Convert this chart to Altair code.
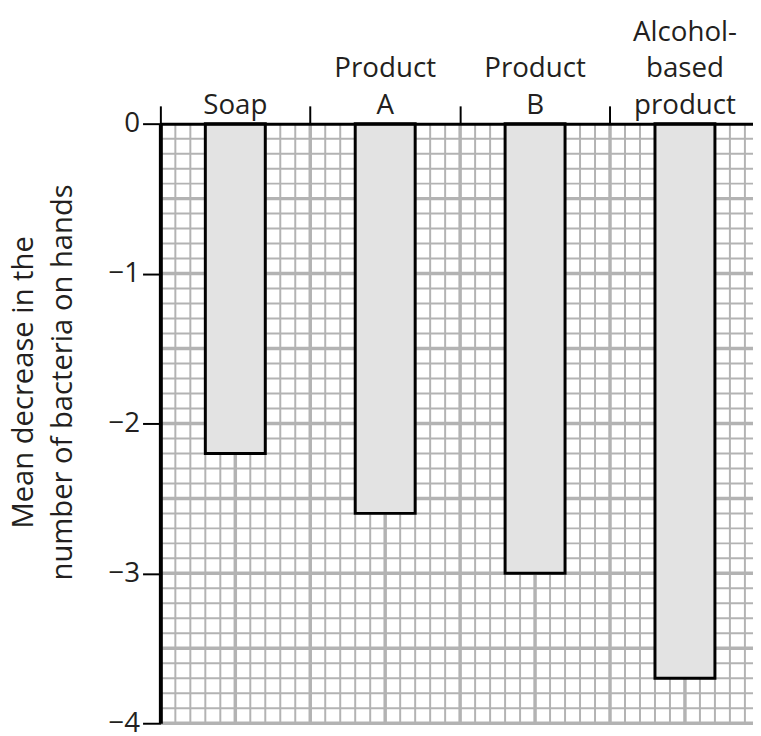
import altair as alt
import numpy as np
import pandas as pd

# Data
categories = ["Soap", "Product A", "Product B", "Alcohol-based product"]
label_lines = [["Soap"], ["Product", "A"], ["Product", "B"], ["Alcohol-", "based", "product"]]
values = [-2.2, -2.6, -3.0, -3.7]
y_ticks = [0, -1, -2, -3, -4]
x_dividers = [0, 1, 2, 3]

FONT = "Open Sans"
TXT = "#231f20"
GRID = "#b3b3b3"
LINE_H = 37
PX_PER_UNIT = 151.5

bars_df = pd.DataFrame({
    "category": categories,
    "label": label_lines,
    "value": values,
    "idx": list(range(len(categories))),
})

# Graph-paper grid (style only)
minor_x = [round(v, 2) for v in np.arange(0.1, 4.0, 0.1) if round(v * 10) % 5 != 0]
major_x = [round(v, 2) for v in np.arange(0.5, 4.0, 0.5)]
minor_y = [round(-v, 2) for v in np.arange(0.1, 4.0, 0.1) if round(v * 10) % 5 != 0]
major_y = [round(-v, 2) for v in np.arange(0.5, 4.01, 0.5)]

xscale = alt.Scale(domain=[0, 3.954], nice=False, zero=False)
yscale = alt.Scale(domain=[-4, 0], nice=False, zero=False)

x_axis = alt.Axis(orient="top", values=x_dividers, labels=False, title=None,
                  grid=False, ticks=True, tickSize=18, tickWidth=2, tickColor="black",
                  domain=True, domainColor="black", domainWidth=3, zindex=2)
y_axis = alt.Axis(orient="left", values=y_ticks, format="d", grid=False,
                  title=["Mean decrease in the", "number of bacteria on hands"],
                  titleFont=FONT, titleFontSize=29.5, titleFontWeight="normal",
                  titleColor=TXT, titleAngle=270, titleAlign="center",
                  titleBaseline="alphabetic", titleLineHeight=39,
                  titleX=-129, titleY=261,
                  labelFont=FONT, labelFontSize=28, labelColor=TXT, labelPadding=3,
                  tickSize=18, tickWidth=2, tickColor="black",
                  domain=True, domainColor="black", domainWidth=4, zindex=2)

vminor = alt.Chart(pd.DataFrame({"x": minor_x})).mark_rule(color=GRID, strokeWidth=2).encode(
    x=alt.X("x:Q", scale=xscale, axis=x_axis))
vmajor = alt.Chart(pd.DataFrame({"x": major_x})).mark_rule(color=GRID, strokeWidth=3.5).encode(
    x=alt.X("x:Q", scale=xscale))
hminor = alt.Chart(pd.DataFrame({"y": minor_y})).mark_rule(color=GRID, strokeWidth=2).encode(
    y=alt.Y("y:Q", scale=yscale, axis=y_axis))
hmajor = alt.Chart(pd.DataFrame({"y": major_y})).mark_rule(color=GRID, strokeWidth=3.5).encode(
    y=alt.Y("y:Q", scale=yscale))

base = alt.Chart(bars_df).transform_calculate(
    x0="datum.idx + 0.3", x1="datum.idx + 0.7", xc="datum.idx + 0.5", zero="0",
    ylab=f"(length(datum.label) - 1) * {LINE_H} / {PX_PER_UNIT}",
)

bars = base.mark_bar(fill="#e3e3e3", stroke="black", strokeWidth=3).encode(
    x=alt.X("x0:Q", scale=xscale),
    x2="x1:Q",
    y=alt.Y("value:Q", scale=yscale),
    y2="zero:Q",
)

labels = base.mark_text(font=FONT, fontSize=28, color=TXT, baseline="bottom",
                        align="center", lineHeight=LINE_H, dy=-4).encode(
    x=alt.X("xc:Q", scale=xscale),
    y=alt.Y("ylab:Q", scale=yscale),
    text="label",
)

chart = alt.layer(vminor, vmajor, hminor, hmajor, bars, labels).properties(
    width=599, height=606,
    autosize=alt.AutoSizeParams(type="none"),
    padding={"left": 154, "top": 113, "right": 0, "bottom": 10},
).configure_view(stroke=None)

chart.save("out.html", embed_options={"renderer": "svg", "actions": False})
